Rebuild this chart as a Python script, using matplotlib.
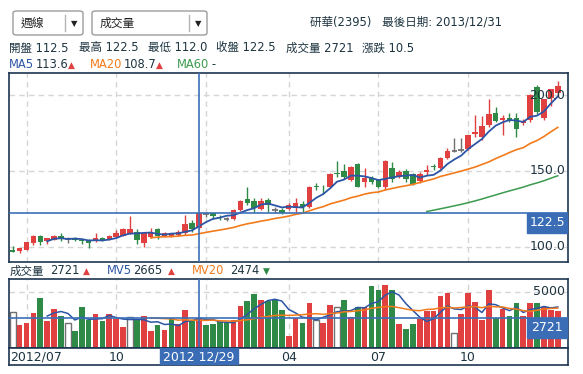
import numpy as np
import pandas as pd
import matplotlib
matplotlib.use('Agg')
import matplotlib.pyplot as plt
from matplotlib.patches import Rectangle, FancyBboxPatch
from matplotlib.lines import Line2D

plt.rcParams['font.family'] = ['DejaVu Sans', 'Noto Sans CJK TC']

# weekly candles, 2012/06 .. 2013/12
opens = [98.0, 97.3, 98.0, 102.5, 107.4, 103.6, 104.9, 107.1, 105.0, 105.6,
         104.9, 104.2, 103.8, 106.0, 105.1, 106.7, 107.4, 108.7, 109.8, 102.9,
         106.7, 111.8, 107.4, 107.4, 107.6, 109.0, 115.8, 112.5, 122.0, 122.1,
         120.0, 118.4, 118.4, 124.3, 131.6, 130.3, 125.0, 130.9, 124.3, 124.3,
         125.0, 125.9, 128.3, 126.1, 140.1, 140.4, 139.7, 148.7, 150.0, 144.1,
         154.6, 143.0, 145.2, 144.1, 139.7, 151.8, 146.3, 150.0, 148.0, 143.4,
         149.6, 153.5, 151.8, 158.8, 163.0, 163.5, 164.5, 174.1, 172.1, 180.3,
         188.4, 183.5, 184.6, 185.1, 181.4, 183.6, 205.5, 184.6, 197.8, 201.5]
highs = [100.6, 99.3, 103.5, 107.6, 107.8, 106.0, 107.6, 109.1, 106.5, 106.7,
         105.3, 105.0, 109.1, 106.5, 107.6, 111.4, 112.5, 120.1, 111.6, 109.5,
         112.3, 112.7, 110.0, 108.8, 111.2, 121.3, 117.8, 122.5, 123.2, 122.3,
         121.0, 120.0, 125.0, 131.0, 139.3, 132.0, 132.0, 132.0, 126.5, 125.4,
         128.7, 132.0, 130.0, 140.0, 141.9, 140.8, 148.5, 156.4, 154.4, 153.5,
         155.0, 151.8, 146.5, 145.0, 157.0, 156.1, 150.5, 151.1, 148.5, 149.6,
         153.7, 154.4, 159.3, 164.9, 171.5, 171.5, 174.0, 186.8, 186.4, 197.1,
         192.3, 186.8, 188.4, 187.9, 184.0, 200.5, 206.6, 197.5, 204.0, 209.2]
lows = [96.6, 95.8, 97.8, 101.3, 101.1, 102.2, 104.5, 104.0, 102.5, 103.6,
        101.8, 99.1, 103.4, 103.8, 104.7, 106.3, 107.0, 108.5, 101.8, 99.8,
        105.7, 105.0, 106.8, 106.8, 107.0, 108.0, 109.9, 112.0, 120.0, 118.2,
        117.8, 117.3, 117.8, 123.5, 127.6, 123.2, 124.5, 123.2, 122.1, 121.5,
        124.3, 123.2, 123.2, 125.5, 137.5, 134.6, 139.0, 146.3, 144.7, 143.5,
        139.5, 139.7, 141.5, 139.0, 137.5, 143.0, 145.5, 143.0, 141.0, 142.3,
        147.4, 150.7, 151.0, 158.2, 162.5, 162.7, 163.5, 172.6, 170.4, 179.2,
        182.5, 173.7, 182.5, 172.6, 180.5, 182.5, 187.3, 183.5, 193.0, 200.0]
closes = [97.0, 99.1, 103.3, 107.4, 103.3, 105.6, 107.4, 105.0, 105.0, 104.5,
          104.0, 102.7, 106.0, 104.3, 107.4, 108.9, 111.7, 111.7, 104.9, 109.1,
          110.0, 107.2, 109.3, 108.3, 110.1, 115.1, 112.0, 122.5, 122.0, 120.6,
          119.2, 118.4, 124.3, 130.3, 129.2, 125.4, 130.3, 127.6, 124.3, 122.6,
          127.6, 129.2, 126.1, 139.5, 139.5, 139.8, 148.0, 148.0, 146.3, 152.6,
          139.7, 145.6, 142.5, 139.7, 156.6, 144.5, 149.6, 144.5, 141.7, 148.0,
          150.7, 152.4, 158.8, 163.0, 163.0, 163.5, 173.7, 175.4, 179.6, 187.5,
          183.1, 184.6, 183.1, 177.6, 182.9, 200.0, 188.6, 197.1, 203.7, 205.9]
volumes = [3250, 2050, 2240, 3130, 4440, 2400, 3470, 2850, 2273, 1515,
           3640, 2516, 3019, 2397, 3019, 2604, 1864, 2811, 2486, 2841,
           1530, 2042, 1598, 2700, 2100, 3350, 2454, 2721, 2050, 2140,
           2280, 2300, 2490, 3740, 4185, 4820, 4270, 4180, 4300, 3380,
           1068, 2715, 2240, 4020, 2508, 2240, 3830, 3620, 4270, 2730,
           3650, 3670, 5520, 5165, 5610, 5160, 2140, 1690, 2140, 2600,
           3295, 3295, 4630, 4900, 1320, 3030, 4900, 4095, 2493, 5165,
           2686, 3470, 2850, 4005, 2850, 4005, 4005, 3660, 3360, 3300]

month_pos = [2, 15, 28, 40, 53, 66]
month_labels = ['2012/07', '10', '2013/01', '04', '07', '10']
price_ticks = [100, 150, 200]
vol_ticks = [5000]
sel = 27
sel_label = '2012 12/29'
sel_half = 5.6   # half width of the date box, in weeks

info_labels = ['開盤', '最高', '最低', '收盤', '成交量', '漲跌']
info_values = ['112.5', '122.5', '112.0', '122.5', '2721', '10.5']

W, H = 583, 374
def fx(px):
    return px / W
def fy(px):
    return 1 - px / H

RED = '#e0403f'
GREEN = '#2e8a46'
GRAY = '#707070'
BLUE = '#2d55a5'
ORANGE = '#f27b1c'
MAGREEN = '#3c9a4e'
TXT = '#1d3440'
FRAME = '#1d3550'
CROSS = '#3b6fb8'
GRID = '#d6d6d6'

o = np.array(opens); h = np.array(highs); l = np.array(lows); c = np.array(closes)
v = np.array(volumes)
n = len(c)
x = np.arange(n)

def moving(vals, k):
    m = pd.Series(vals, dtype=float).rolling(k).mean().to_numpy()
    m[:k] = np.nan
    return m

fig = plt.figure(figsize=(W / 100, H / 100), dpi=100)
fig.patch.set_facecolor('white')

# ---------------- price panel
ax = fig.add_axes([fx(9), fy(262), (568 - 9) / W, (262 - 73) / H])
ax.set_xlim(-0.54, 80.48)
ax.set_ylim(90.1, 214.5)
for p in month_pos:
    ax.axvline(p, color=GRID, lw=1, ls=(0, (4, 3)), zorder=0)
for t in price_ticks:
    ax.axhline(t, color=GRID, lw=1, ls=(0, (4, 3)), zorder=0)

flat = c == o
cols = np.where(c > o, RED, np.where(c < o, GREEN, GRAY))
ax.vlines(x, l, h, colors=cols, lw=1, zorder=2)
body = np.maximum(np.abs(c - o), 0.6)
nf = ~flat
ax.bar(x[nf], body[nf], bottom=np.minimum(o, c)[nf], width=0.8,
       color=cols[nf], lw=0, zorder=3)
ax.hlines(o[flat], x[flat] - 0.4, x[flat] + 0.4, colors=GRAY, lw=1.3, zorder=3)

ax.plot(x, moving(c, 60), color=MAGREEN, lw=1.1, zorder=4)
ax.plot(x, moving(c, 20), color=ORANGE, lw=1.2, zorder=4)
ax.plot(x, moving(c, 5), color=BLUE, lw=1.3, zorder=4)

ax.axvline(sel, color=CROSS, lw=1.2, zorder=5)
ax.axhline(c[sel], color=CROSS, lw=1.2, zorder=5)
for t in price_ticks:
    ax.text(0.995, t, f'{t:.1f}', transform=ax.get_yaxis_transform(),
            ha='right', va='center', fontsize=9, color=TXT, zorder=6)
ax.set_xticks([]); ax.set_yticks([])
for s in ax.spines.values():
    s.set_color(FRAME); s.set_linewidth(1.2)

# ---------------- volume panel
axv = fig.add_axes([fx(9), fy(348), (568 - 9) / W, (348 - 279) / H])
axv.set_xlim(-0.54, 80.48)
axv.set_ylim(0, 6160)
for p in month_pos:
    axv.axvline(p, color=GRID, lw=1, ls=(0, (4, 3)), zorder=0)
for t in vol_ticks:
    axv.axhline(t, color=GRID, lw=1, ls=(0, (4, 3)), zorder=0)

# volume colour follows the change against the previous close
prev = np.concatenate([[np.nan], c[:-1]])
fcs, ecs, lws = [], [], []
for i in range(n):
    if i > 0 and c[i] > prev[i]:
        fcs.append(RED); ecs.append(RED); lws.append(0)
    elif i > 0 and c[i] < prev[i]:
        fcs.append(GREEN); ecs.append(GREEN); lws.append(0)
    else:
        fcs.append('white'); ecs.append(GRAY); lws.append(1.0)
axv.bar(x, v, width=0.82, color=fcs, edgecolor=ecs, linewidth=lws, zorder=2)
axv.plot(x, moving(v, 5), color=BLUE, lw=1.1, zorder=4)
axv.plot(x, moving(v, 20), color=ORANGE, lw=1.1, zorder=4)
axv.axvline(sel, color=CROSS, lw=1.2, zorder=5)
axv.axhline(v[sel], color=CROSS, lw=1.2, zorder=5)
for t in vol_ticks:
    axv.text(0.995, t, f'{t}', transform=axv.get_yaxis_transform(),
             ha='right', va='center', fontsize=9, color=TXT, zorder=6)
axv.set_xticks([]); axv.set_yticks([])
for s in axv.spines.values():
    s.set_color(FRAME); s.set_linewidth(1.2)

# ---------------- date strip
axl = fig.add_axes([fx(9), fy(365), (568 - 9) / W, (365 - 348) / H])
axl.set_xlim(-0.54, 80.48)
axl.set_ylim(0, 1)
for k, (p, lab) in enumerate(zip(month_pos, month_labels)):
    if abs(p - sel) < sel_half + 1:
        continue  # covered by the selected-date box
    if k == 0:
        axl.text(-0.35, 0.45, lab, ha='left', va='center', fontsize=9, color=TXT)
    else:
        axl.text(p, 0.45, lab, ha='center', va='center', fontsize=9, color=TXT)
axl.add_patch(Rectangle((sel - sel_half, 0), 2 * sel_half, 1, color='#3a6db5', zorder=5))
axl.text(sel, 0.45, sel_label, ha='center', va='center', fontsize=9,
         color='white', zorder=6)
axl.set_xticks([]); axl.set_yticks([])
for s in axl.spines.values():
    s.set_color(FRAME); s.set_linewidth(1.2)

# value boxes on the right edge, top aligned with crosshair lines
fig.canvas.draw()
for a, val, txt in [(ax, c[sel], f'{c[sel]:.1f}'), (axv, v[sel], f'{v[sel]}')]:
    ydisp = a.transData.transform((0, val))[1]
    top = H - ydisp
    fig.add_artist(Rectangle((fx(527), fy(top + 20)), 40 / W, 20 / H,
                             transform=fig.transFigure, color='#3a6db5', zorder=10))
    fig.text(fx(547), fy(top + 10), txt, ha='center', va='center',
             fontsize=9, color='white', zorder=11)

# ---------------- header
for bx, bw, label, sep in [(13, 70, '週線', 65), (92, 115, '成交量', 189)]:
    fig.add_artist(FancyBboxPatch((fx(bx), fy(35)), bw / W, 24 / H,
                                  boxstyle='round,pad=0,rounding_size=0.006',
                                  transform=fig.transFigure, fc='white',
                                  ec='#9c9c9c', lw=1))
    fig.text(fx(bx + 8), fy(23.5), label, ha='left', va='center',
             fontsize=8.5, color='#222222')
    fig.add_artist(Line2D([fx(sep), fx(sep)], [fy(15), fy(31)],
                          transform=fig.transFigure, color='#b4b4b4', lw=1))
    fig.text(fx(sep + 9), fy(23.5), '▼', ha='center', va='center',
             fontsize=6, color='#222222')

fig.text(fx(502), fy(22), '研華(2395)   最後日期: 2013/12/31', ha='right',
         va='center', fontsize=8.3, color=TXT)

for px, lab, val in zip([9, 79, 148, 216, 286, 362], info_labels, info_values):
    fig.text(fx(px), fy(48), f'{lab} {val}', ha='left', va='center',
             fontsize=8.3, color=TXT)

ma_items = [(9, 'MA5', BLUE), (36, '113.6', TXT), (68, '▲', RED),
            (90, 'MA20', ORANGE), (124, '108.7', TXT), (156, '▲', RED),
            (177, 'MA60', MAGREEN), (211, '-', TXT)]
for px, s, col in ma_items:
    fig.text(fx(px), fy(65), s, ha='left', va='center',
             fontsize=8.3 if s not in ('▲', '▼') else 6.5, color=col)

vol_items = [(10, '成交量', TXT), (50, '2721', TXT), (83, '▲', RED),
             (107, 'MV5', BLUE), (133, '2665', TXT), (168, '▲', RED),
             (192, 'MV20', ORANGE), (230, '2474', TXT), (263, '▼', GREEN)]
for px, s, col in vol_items:
    fig.text(fx(px), fy(271), s, ha='left', va='center',
             fontsize=8.3 if s not in ('▲', '▼') else 6.5, color=col)

fig.savefig('out.png', dpi=100, facecolor='white')
